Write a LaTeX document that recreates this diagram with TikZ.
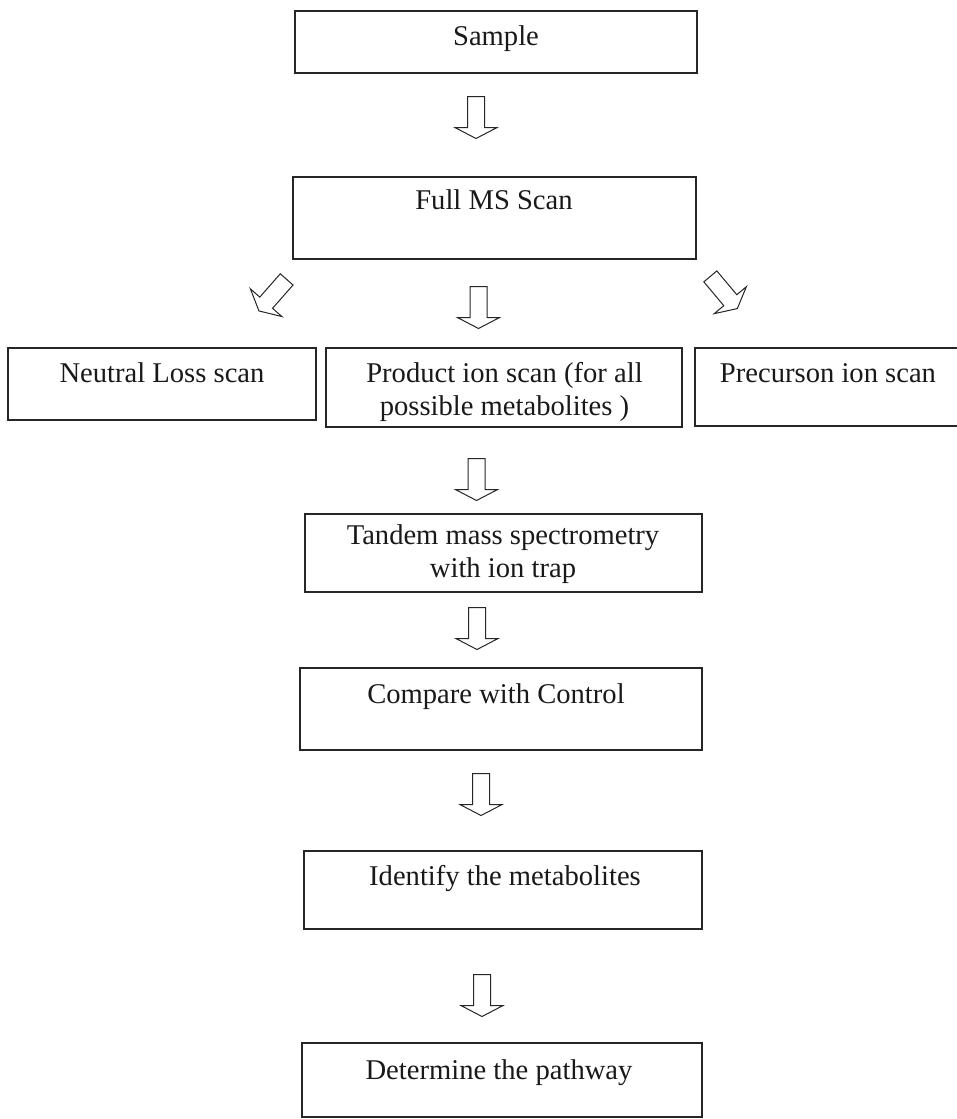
\documentclass[tikz,border=0pt]{standalone}
\usepackage{fontspec}
\setmainfont{Liberation Serif}
\usetikzlibrary{shapes.arrows}
\begin{document}
\begin{tikzpicture}[x=1pt,y=-1pt,
  box/.style={draw=black!85, line width=1.3pt, inner sep=0pt, rectangle},
  txt/.style={font=\fontsize{28.6}{33}\selectfont, text=black!90, inner sep=0pt, anchor=base, align=center},
  blk/.style={single arrow, draw=black!85, line width=1pt, fill=white,
    minimum height=42pt, minimum width=41pt, inner sep=8pt,
    single arrow head extend=12.5pt, single arrow tip angle=125, anchor=tail}]
\useasboundingbox (0,0) rectangle (957,1119);
% boxes
\node[box, minimum width=402pt, minimum height=62pt] (sample) at (496,42) {};
\node[box, minimum width=403pt, minimum height=82pt] (full) at (494.5,218) {};
\node[box, minimum width=308pt, minimum height=72pt] (neutral) at (162,384) {};
\node[box, minimum width=356pt, minimum height=79pt] (product) at (504,387.5) {};
\node[box, minimum width=267pt, minimum height=78pt] (precursor) at (828.5,387) {};
\node[box, minimum width=397pt, minimum height=78pt] (tandem) at (503.5,553) {};
\node[box, minimum width=402pt, minimum height=82pt] (compare) at (501,709) {};
\node[box, minimum width=398pt, minimum height=78pt] (identify) at (503,890) {};
\node[box, minimum width=400pt, minimum height=74pt] (determine) at (502,1080) {};
% texts (base anchor of a two-line node is the baseline of its last line)
\node[txt] (sampleT) at (496,45) {Sample};
\node[txt] (fullT) at (494,209) {Full MS Scan};
\node[txt] (neutralT) at (162,382) {Neutral Loss scan};
\node[txt] (productT) at (504.5,415) {Product ion scan (for all\\possible metabolites )};
\node[txt] (precursorT) at (828,382) {Precurson ion scan};
\node[txt] (tandemT) at (503,577) {Tandem mass spectrometry\\with ion trap};
\node[txt] (compareT) at (496,703) {Compare with Control};
\node[txt] (identifyT) at (505,885) {Identify the metabolites};
\node[txt] (determineT) at (499,1079) {Determine the pathway};
% block arrows
\node[blk, rotate=-90] (a1) at (476,96) {};
\node[blk, rotate=-131.3] (a2) at (287,279) {};
\node[blk, rotate=-90] (a3) at (478.5,286) {};
\node[blk, rotate=-50] (a4) at (710,276) {};
\node[blk, rotate=-90] (a5) at (476.5,458) {};
\node[blk, rotate=-90] (a6) at (477,607) {};
\node[blk, rotate=-90] (a7) at (481,773) {};
\node[blk, rotate=-90] (a8) at (482,974) {};
\end{tikzpicture}
\end{document}
